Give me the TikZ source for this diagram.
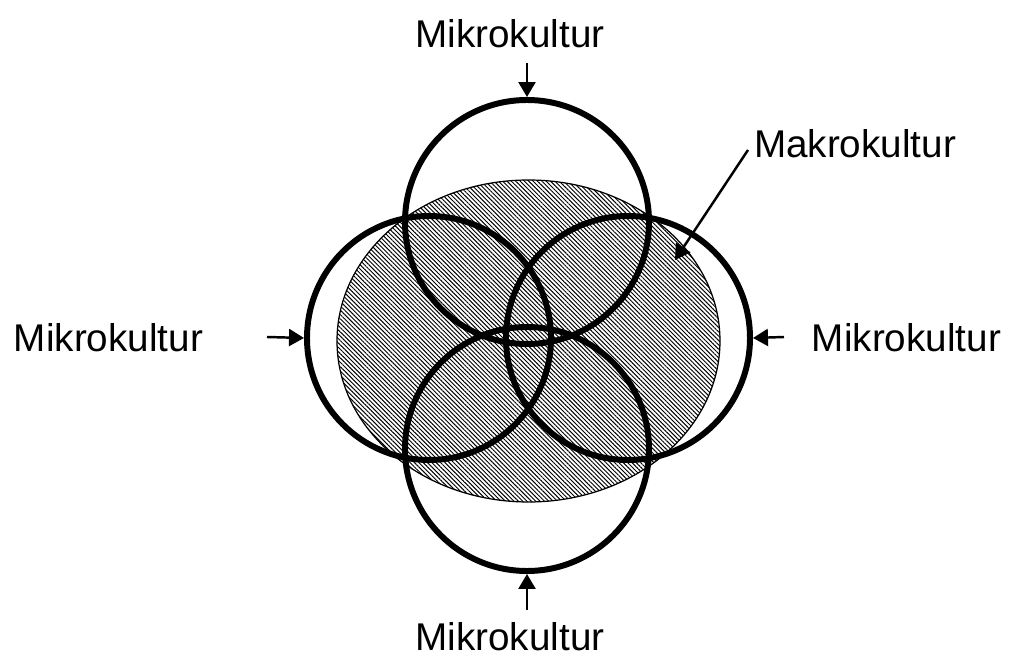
\documentclass[tikz,border=0pt]{standalone}
\usepackage{fontspec}
\setmainfont{Liberation Sans}
\usepackage{tikz}
\usetikzlibrary{shapes.geometric, arrows.meta, patterns.meta}
\tikzstyle{arrow}     = [line width=1.4pt,-{Triangle[length=0.3cm,width=0.34cm]}]

\begin{document}
\begin{tikzpicture}

\tikzset{
  ring/.style={circle, draw=black, line width=3.4pt,
    minimum size=4.88cm, inner sep=0pt},
  makro/.style={ellipse, draw=black, line width=0.7pt,
    minimum width=7.66cm, minimum height=6.44cm, inner sep=0pt,
    pattern={Lines[angle=-45, distance=1.75pt, line width=0.55pt]}},
  etikett/.style={font=\fontsize{22}{26}\selectfont, anchor=base, inner sep=0pt}
}

\useasboundingbox (0,0) rectangle (20.22,-13.14);

% ---- MACRO CULTURE ----
\node (makrofeld) [makro] at (10.57,-6.82) {};

% ---- MICRO CULTURES ----
\node (oben)   [ring] at (10.54,-4.44) {};
\node (unten)  [ring] at (10.54,-8.98) {};
\node (links)  [ring] at ( 8.58,-6.76) {};
\node (rechts) [ring] at (12.56,-6.76) {};

% ---- LABELS ----
\node (toplbl)   [etikett] at (10.20,-0.96)  {Mikrokultur};
\node (botlbl)   [etikett] at (10.20,-13.00) {Mikrokultur};
\node (leftlbl)  [etikett] at ( 2.17,-7.04)  {Mikrokultur};
\node (rightlbl) [etikett] at (18.13,-7.04)  {Mikrokultur};
\node (makrolbl) [etikett] at (17.10,-3.16)  {Makrokultur};

% ---- ARROW ENDS ----
\coordinate (topstart)   at (10.54,-1.26);
\coordinate (botstart)   at (10.54,-12.20);
\coordinate (leftstart)  at ( 5.34,-6.74);
\coordinate (rightstart) at (15.68,-6.74);
\coordinate (makrostart) at (14.96,-3.00);
\coordinate (makrotip)   at (13.50,-5.20);

% ---- ARROWS ----
\draw[arrow] (topstart)   -- (oben.north);
\draw[arrow] (botstart)   -- (unten.south);
\draw[arrow] (leftstart)  -- (links.west);
\draw[arrow] (rightstart) -- (rechts.east);
\draw[arrow] (makrostart) -- (makrotip);

\end{tikzpicture}
\end{document}
